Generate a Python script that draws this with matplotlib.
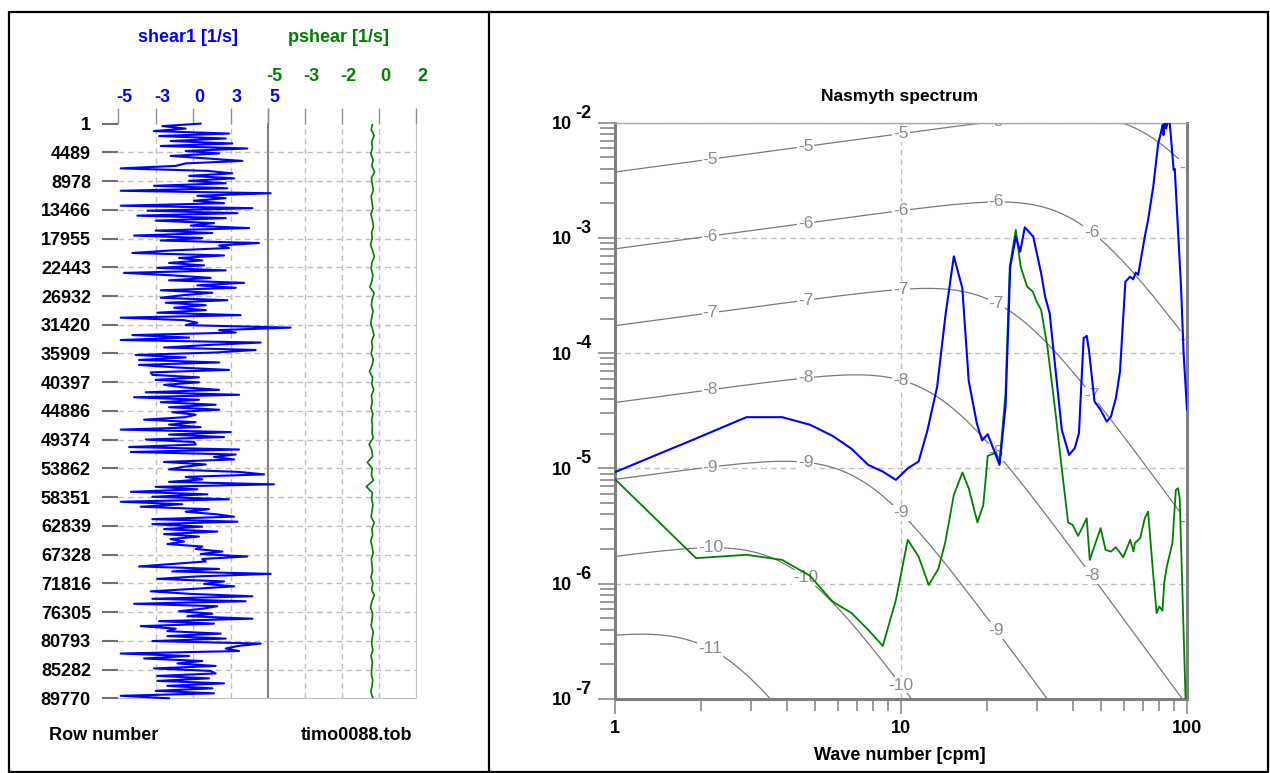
import numpy as np
import matplotlib.pyplot as plt
from matplotlib.transforms import offset_copy
from matplotlib.patches import Rectangle
from matplotlib.lines import Line2D

plt.rcParams['font.family'] = ['Liberation Sans', 'DejaVu Sans']

# ---------------- data: left panel (profile) ----------------
row_ticks = [1, 4489, 8978, 13466, 17955, 22443, 26932, 31420, 35909, 40397,
             44886, 49374, 53862, 58351, 62839, 67328, 71816, 76305, 80793,
             85282, 89770]

shear1_ticks = [-5, -2.5, 0, 2.5, 5]
shear1_labels = ['-5', '-3', '0', '3', '5']
pshear_ticks = [-5, -3.25, -1.5, 0.25, 2]
pshear_labels = ['-5', '-3', '-2', '0', '2']

# shear1 [1/s], read top to bottom
shear1 = [0.51, -2.04, -0.49, -2.6, 2.4, -2.26, 2.18, -1.49, 2.62, -2.15, 3.62, -0.49,
          1.74, -1.49, 0.85, 3.29, -0.49, -1.15, -4.82, 0.96, 2.62, -0.26, 2.74, -0.26,
          2.18, -2.6, 2.29, -4.82, 5.18, 0.29, 2.18, 0.07, 2.07, -4.82, 3.96, -3.04,
          2.96, -3.71, 2.18, -2.49, 1.4, -0.15, 3.74, -2.49, 1.29, -3.93, 0.62, -2.15,
          4.4, 1.74, 2.4, -1.49, -4.04, 2.07, -0.93, 0.62, -1.6, 0.74, -2.38, 2.18,
          -4.6, -1.38, 1.18, -1.6, 3.4, 0.29, 2.85, -2.15, 1.29, -0.71, -2.15, 2.29,
          -1.82, 0.85, -1.26, 0.85, -2.38, 3.18, -4.82, -0.6, 0.29, -0.49, 6.51, 1.74,
          2.85, -4.04, -0.26, -4.82, 4.51, 0.96, -1.93, 4.18, 1.51, -3.82, -0.49, -3.6,
          1.74, -3.6, -1.15, 2.4, -2.82, -2.71, 0.4, -2.49, 0.4, -1.93, -0.71, 1.74,
          -3.15, 3.07, -3.93, 0.4, -2.15, 1.51, -1.6,
          1.74, -1.38, 0.18, -0.49, -3.26, 0.18, -1.6, 0.51, -4.82, 2.51, -1.6, 2.07,
          -3.15, 0.07, 0.18, -4.26, 3.07, -4.15, 2.85, 1.4, 2.74, -1.93, 0.85, -0.71,
          -1.6, 3.07, 4.74, -0.49, 0.62, -1.6, 5.4, -2.49, 0.29, -4.15, 0.96, -2.71,
          2.4, -4.82, -0.71, -3.49, 1.07, -0.49, 1.51, 2.74, -2.71, 2.96, -2.71, 0.62,
          -1.93, 1.62, -1.93, 0.4, -1.49, -0.6, -1.71, 0.62, 0.18, 1.96, 0.51, 3.62,
          0.62, 0.85, -1.38, -3.6, 1.74, -1.38, 5.18, 0.29, -2.38, 2.07, 0.74, 2.74,
          0.07, -2.82, -0.26, 3.96, -2.71, 3.51, -3.93, 1.62, 0.62, -0.93, 1.29, -0.38,
          3.96, -2.26, 1.4, -3.49, -1.15, -1.71, 1.85, -1.71, 2.18, -2.71, 4.51, 2.96,
          2.18, 3.07, -4.82, -0.26, -3.26, 0.62, -1.04, 1.51, -2.6, 1.18, 1.51, -2.38,
          1.07, -2.38, 2.07, -1.71, 1.29, -2.49, 1.4, -4.82, -1.6]

# pshear [1/s]
pshear = [-0.05, -0.12, 0.02, -0.10, -0.06, -0.14, -0.03, -0.09, 0.04, -0.11, -0.07,
          -0.02, -0.12, -0.08, -0.04, -0.13, -0.06, -0.01, -0.10, -0.07, -0.15, -0.05,
          0.03, -0.09, -0.12, -0.04, -0.08, -0.18, 0.02, -0.07, -0.11, -0.03, -0.09,
          -0.14, -0.05, 0.01, -0.10, -0.06, -0.12, -0.02, -0.08, -0.20, -0.05, -0.09,
          0.00, -0.11, -0.07, -0.13, -0.04, -0.10, -0.06, -0.08, -0.03, -0.22, -0.09,
          -0.05, -0.30, -0.07, -0.11, -0.02, -0.35, -0.06, -0.10, -0.04, -0.08, -0.12,
          0.02, -0.09, -0.05, -0.14, -0.07, -0.03, -0.11, -0.08, -0.06, -0.13, -0.04,
          -0.10, 0.03, -0.09, -0.15, -0.05, -0.08, -0.12, -0.02, -0.07, -0.10, -0.04,
          -0.13, -0.06, -0.09, -0.11, -0.05, -0.08, -0.14, -0.03]

# ---------------- data: right panel (spectra) ----------------
k_shear1 = [0.96, 1.92, 2.88, 3.84, 4.80, 5.76, 6.72, 7.68, 8.64, 9.60, 10.56, 11.52,
            12.35, 13.37, 14.33, 15.3, 16.38, 17.25, 18.42, 19.2, 20.1, 21.1, 22.1,
            23.2, 24.1, 25.2, 26.1, 27.1, 29.0, 30.9, 31.9, 33.1, 34.7, 36.5, 38.7,
            40.5, 41.9, 43.5, 44.6, 45.4, 47.5, 49.9, 52.4, 54.2, 56.4, 58.3, 60.9,
            63.2, 64.8, 66.2, 67.5, 71.2, 73.1, 76.2, 79.3, 81.0, 82.1, 82.8, 83.5,
            84.5, 86.7, 89.8, 90.6, 95.3, 97.3, 100.0]
log_psd_shear1 = [-5.05, -4.74, -4.555, -4.555, -4.62, -4.717, -4.83, -4.969, -5.027,
                  -5.099, -4.998, -4.94, -4.677, -4.294, -3.656, -3.159, -3.434, -4.24,
                  -4.611, -4.756, -4.703, -4.836, -4.969, -4.463, -3.249, -2.989,
                  -3.119, -2.907, -2.989, -3.306, -3.509, -3.653, -4.145, -4.665,
                  -4.882, -4.824, -4.694, -3.87, -3.85, -3.971, -4.42, -4.492, -4.593,
                  -4.55, -4.39, -4.16, -3.379, -3.336, -3.358, -3.30, -3.32, -2.989,
                  -2.844, -2.555, -2.179, -2.092, -2.02, -2.107, -1.98, -2.05, -1.95,
                  -2.41, -2.40, -3.422, -4.0, -4.49]

k_pshear = [0.96, 1.92, 2.88, 3.84, 4.80, 5.76, 6.72, 7.68, 8.64, 9.60, 10.56, 11.52,
            12.5, 13.5, 14.3, 15.3, 16.4, 17.25, 18.5, 19.4, 20.1, 21.5, 22.1, 23.2,
            24.0, 25.2, 26.2, 27.6, 28.9, 29.8, 30.9, 32.5, 34.7, 36.2, 38.4, 39.8,
            41.6, 43.2, 44.6, 45.7, 48.3, 49.9, 51.9, 54.2, 56.4, 57.9, 59.8, 62.0,
            63.3, 65.0, 65.7, 68.6, 71.2, 73.1, 76.2, 78.3, 80.0, 82.1, 83.2, 85.0,
            88.9, 91.4, 93.0, 94.3, 98.8, 100.0]
log_psd_pshear = [-5.05, -5.778, -5.749, -5.793, -5.93, -6.154, -6.255, -6.40, -6.539,
                  -6.14, -5.619, -5.764, -6.01, -5.873, -5.634, -5.229, -5.035, -5.171,
                  -5.469, -5.316, -4.891, -4.862, -4.954, -4.347, -3.249, -2.93,
                  -3.249, -3.422, -3.466, -3.552, -3.624, -3.943, -4.52, -4.926,
                  -5.469, -5.489, -5.585, -5.504, -5.431, -5.793, -5.619, -5.518,
                  -5.706, -5.721, -5.683, -5.72, -5.77, -5.677, -5.619, -5.72, -5.648,
                  -5.605, -5.431, -5.374, -5.923, -6.255, -6.198, -6.232, -5.995,
                  -5.851, -5.648, -5.186, -5.171, -5.258, -6.98, -7.3]

# Nasmyth reference spectra: log10 of dissipation rate
eps_exponents = [-5, -6, -7, -8, -9, -10, -11]
viscosity = 1.25e-6


def nasmyth(k, eps):
    ks = (eps / viscosity ** 3) ** 0.25
    return 8.05 * eps ** (2 / 3) * k ** (1 / 3) / (1 + (20.6 * k / ks) ** 3.715)


# ---------------- figure ----------------
W, H = 1270, 773
fig = plt.figure(figsize=(W / 100, H / 100), dpi=100)


def box(x0, y0, x1, y1):
    return [x0 / W, 1 - y1 / H, (x1 - x0) / W, (y1 - y0) / H]


blue = '#0000ff'
green = '#008000'
grid_c = '#c0c0c0'
dash = (0, (4, 3))

# outer frame and divider
fig.add_artist(Rectangle((9 / W, 1 - 772 / H), 1259 / W, 760 / H,
                         transform=fig.transFigure, fill=False, ec='black', lw=1.6))
fig.add_artist(Line2D([489 / W, 489 / W], [1 - 772 / H, 1 - 12 / H],
                      transform=fig.transFigure, color='black', lw=1.6))

# ---- left panel ----
y_top, y_bot = 123.6, 698.3
ax_b = fig.add_axes(box(118, y_top, 268, y_bot))
ax_g = fig.add_axes(box(268, y_top, 416, y_bot))

rows_b = np.linspace(1, 89770, len(shear1))
rows_g = np.linspace(1, 89770, len(pshear))

for ax, xl, ticks in [(ax_b, (-5, 5), shear1_ticks), (ax_g, (-5, 2), pshear_ticks)]:
    ax.set_xlim(*xl)
    ax.set_ylim(89770, 1)
    ax.patch.set_alpha(0)
    for r in row_ticks[1:-1]:
        ax.axhline(r, color=grid_c, ls=dash, lw=1, zorder=0)
    for v in ticks[1:-1]:
        ax.axvline(v, color=grid_c, ls=dash, lw=1, zorder=0)
    ax.xaxis.set_ticks_position('top')
    ax.set_xticks(ticks)
    ax.set_xticklabels([])
    ax.tick_params(axis='x', direction='out', length=11.5, width=1, color='#909090')
    ax.spines['top'].set_visible(False)
    ax.spines['left'].set_visible(False)
    ax.spines['bottom'].set_color(grid_c)

ax_b.spines['right'].set_color('#808080')
ax_b.spines['right'].set_linewidth(1.5)
ax_g.spines['right'].set_color(grid_c)

ax_b.set_yticks(row_ticks)
ax_b.set_yticklabels([str(r) for r in row_ticks], fontsize=13, fontweight='bold')
ax_b.tick_params(axis='y', direction='out', length=11.5, width=1.5,
                 color='#707070', pad=8)
ax_g.set_yticks([])

ax_b.plot(shear1, rows_b, color=blue, lw=1.5, clip_on=False, zorder=3)
ax_g.plot(pshear, rows_g, color=green, lw=1.2, zorder=3)

for ax, ticks, labels, col, ya in [(ax_b, shear1_ticks, shear1_labels, blue, 1.0446),
                                   (ax_g, pshear_ticks, pshear_labels, green, 1.0811)]:
    tr = offset_copy(ax.get_xaxis_transform(), fig=fig, x=6.5, y=0, units='dots')
    for v, lab in zip(ticks, labels):
        ax.text(v, ya, lab, transform=tr, ha='center', va='center', color=col,
                fontsize=13, fontweight='bold')

fig.text(188 / W, 1 - 38 / H, 'shear1 [1/s]', color=blue, fontsize=13,
         fontweight='bold', ha='center', va='center')
fig.text(338 / W, 1 - 38 / H, 'pshear [1/s]', color=green, fontsize=13,
         fontweight='bold', ha='center', va='center')
fig.text(103.5 / W, 1 - 735 / H, 'Row number', fontsize=13, fontweight='bold',
         ha='center', va='center')
fig.text(356 / W, 1 - 735 / H, 'timo0088.tob', fontsize=13, fontweight='bold',
         ha='center', va='center')

# ---- right panel ----
ax_r = fig.add_axes(box(615, 122.7, 1187, 699))
ax_r.set_xscale('log')
ax_r.set_yscale('log')
ax_r.set_xlim(1, 100)
ax_r.set_ylim(1e-7, 1e-2)

kk = np.logspace(0, 2, 500)
label_k = [10 ** (n / 3) for n in range(1, 7)]
for e in eps_exponents:
    eps = 10.0 ** e
    ax_r.plot(kk, nasmyth(kk, eps), color='#7a7a7a', lw=0.9, zorder=1)
    for k0 in label_k:
        val = nasmyth(k0, eps)
        if 1e-7 <= val <= 1.08e-2:
            ax_r.text(k0, val, str(e), color='#8c8c8c', fontsize=12.5,
                      ha='center', va='center', clip_on=True, zorder=2,
                      bbox=dict(boxstyle='square,pad=0.05', fc='white', ec='none'))

ax_r.plot(k_pshear, 10 ** np.array(log_psd_pshear), color=green, lw=1.3, zorder=3)
ax_r.plot(k_shear1, 10 ** np.array(log_psd_shear1), color=blue, lw=1.5, zorder=4)

ax_r.grid(True, which='major', color=grid_c, ls=dash, lw=1, zorder=0)
ax_r.grid(False, which='minor')
ax_r.set_axisbelow(True)
for s in ['left', 'bottom', 'right']:
    ax_r.spines[s].set_color('#808080')
    ax_r.spines[s].set_linewidth(2.2)
ax_r.spines['top'].set_color('#a8a8a8')
ax_r.spines['top'].set_linewidth(1)

ax_r.tick_params(axis='y', which='major', direction='out', length=12.5, width=1.1,
                 color='#808080', labelleft=False)
ax_r.tick_params(axis='y', which='minor', direction='out', length=10.8, width=1.1,
                 color='#808080', labelleft=False)
ax_r.tick_params(axis='x', which='major', direction='out', length=10.5, width=1.1,
                 color='#808080', labelbottom=False)
ax_r.tick_params(axis='x', which='minor', direction='out', length=8.5, width=1.1,
                 color='#808080', labelbottom=False)

tr10 = offset_copy(ax_r.get_yaxis_transform(), fig=fig, x=0, y=-2, units='dots')
trexp = offset_copy(ax_r.get_yaxis_transform(), fig=fig, x=0, y=9.5, units='dots')
for e in range(-7, -1):
    ax_r.text(-0.0752, 10.0 ** e, '10', transform=tr10, ha='right', va='center',
              fontsize=13, fontweight='bold')
    ax_r.text(-0.0699, 10.0 ** e, str(e), transform=trexp, ha='left', va='center',
              fontsize=13, fontweight='bold')

for v in [1, 10, 100]:
    ax_r.text(v, -0.052, str(v), transform=ax_r.get_xaxis_transform(),
              ha='center', va='center', fontsize=13, fontweight='bold')

fig.text(900 / W, 1 - 96.7 / H, 'Nasmyth spectrum', fontsize=12.5,
         fontweight='bold', ha='center', va='center')
fig.text(900 / W, 1 - 755.7 / H, 'Wave number [cpm]', fontsize=13,
         fontweight='bold', ha='center', va='center')

fig.savefig('out.png', dpi=100)
